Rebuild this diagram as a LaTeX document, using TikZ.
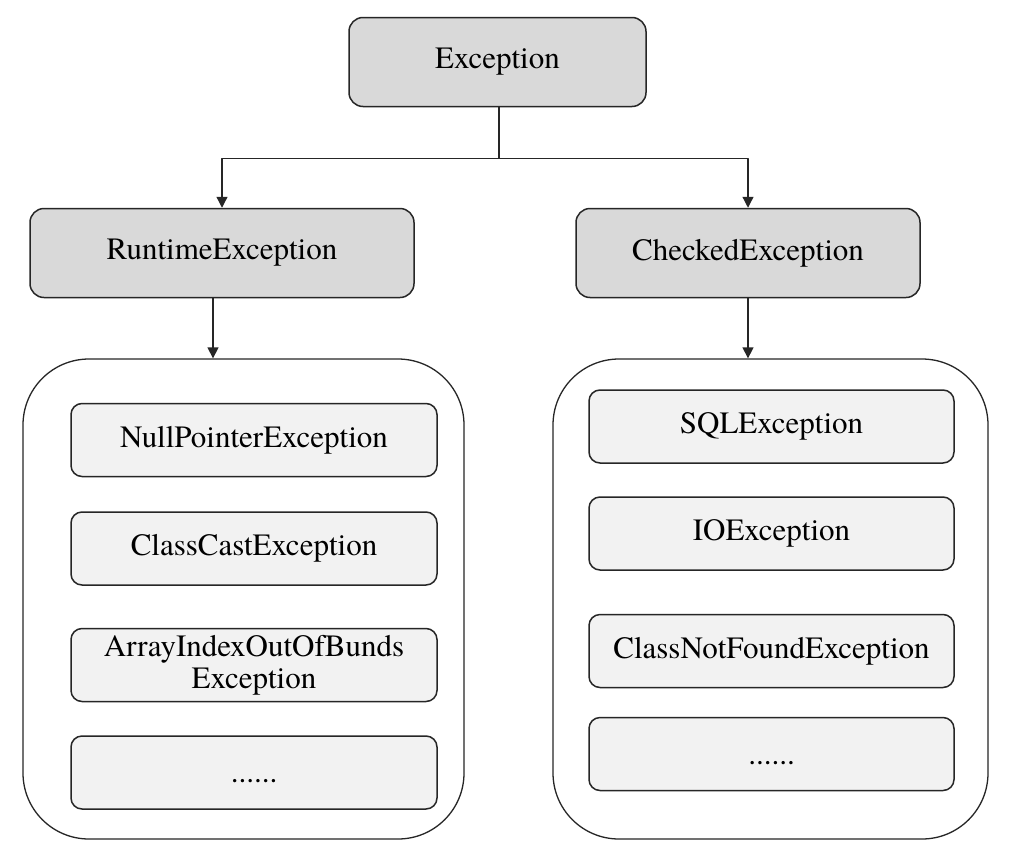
\documentclass[tikz,border=0pt]{standalone}
\usepackage{fontspec}
\setmainfont{TeX Gyre Termes}
\usetikzlibrary{arrows.meta}
\definecolor{topgray}{HTML}{D9D9D9}
\definecolor{subgray}{HTML}{F2F2F2}
\begin{document}
\begin{tikzpicture}[x=1pt, y=-1pt, font=\fontsize{31}{32}\selectfont, line join=round,
  >={Triangle[width=11pt,length=11pt]},
  topbox/.style={draw=black!85, line width=1.5pt, fill=topgray, rounded corners=14pt, minimum height=89pt, inner sep=0pt},
  subbox/.style={draw=black!85, line width=1.5pt, fill=subgray, rounded corners=11pt, minimum width=366pt, minimum height=73pt, inner sep=0pt, align=center},
  groupbox/.style={draw=black!85, line width=1.3pt, fill=white, rounded corners=66pt, minimum height=480pt, inner sep=0pt},
  conn/.style={draw=black!85, line width=1.3pt}]
\useasboundingbox (0,0) rectangle (1011,862);
\node[topbox, minimum width=297pt] (exc) at (497.5,62) {Exception};
\node[topbox, minimum width=384pt] (rte) at (222,253) {RuntimeException};
\node[topbox, minimum width=344pt] (che) at (748,253) {CheckedException};
\node[groupbox, minimum width=441pt] (lgrp) at (243.5,599) {};
\node[groupbox, minimum width=435pt] (rgrp) at (770.5,599) {};
% runtime side
\node[subbox] (npe) at (254,440) {NullPointerException};
\node[subbox] (cce) at (254,548.5) {ClassCastException};
\node[subbox] (aio) at (254,665) {ArrayIndexOutOfBunds\\Exception};
\node[subbox] (lmore) at (254,772.5) {\vphantom{E}......};
% checked side
\node[subbox, minimum width=365pt] (sql) at (771.5,426.5) {SQLException};
\node[subbox, minimum width=365pt] (ioe) at (771.5,533.5) {IOException};
\node[subbox, minimum width=365pt] (cnf) at (771.5,651) {ClassNotFoundException};
\node[subbox, minimum width=365pt] (rmore) at (771.5,754) {\vphantom{E}......};
\path ([xshift=1.5pt]exc.south) ++(0,51) coordinate (split);
\draw[conn] ([xshift=1.5pt]exc.south) -- (split);
\draw[conn,->] (split) -| (rte.north);
\draw[conn,->] (split) -| (che.north);
\draw[conn,->] ([xshift=-9pt]rte.south) -- ([xshift=-9pt]rte.south |- lgrp.north);
\draw[conn,->] (che.south) -- (che.south |- rgrp.north);
\end{tikzpicture}
\end{document}
